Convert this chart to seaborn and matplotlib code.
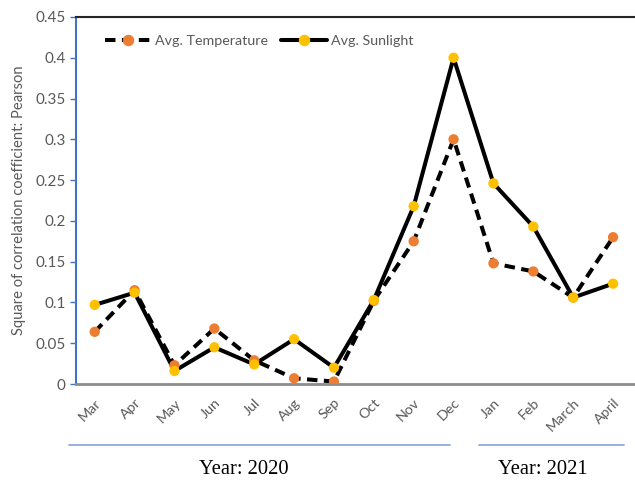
import pandas as pd
import matplotlib.pyplot as plt
import seaborn as sns

# Data
months = ["Mar", "Apr", "May", "Jun", "Jul", "Aug", "Sep", "Oct", "Nov", "Dec",
          "Jan", "Feb", "March", "April"]
avg_temperature = [0.064, 0.115, 0.023, 0.068, 0.029, 0.007, 0.003, 0.102,
                   0.175, 0.300, 0.148, 0.138, 0.106, 0.180]
avg_sunlight = [0.097, 0.112, 0.016, 0.045, 0.024, 0.055, 0.020, 0.103,
                0.218, 0.400, 0.246, 0.193, 0.106, 0.123]
y_ticks = [0, 0.05, 0.1, 0.15, 0.2, 0.25, 0.3, 0.35, 0.4, 0.45]
y_tick_labels = ["0", "0.05", "0.1", "0.15", "0.2", "0.25", "0.3", "0.35", "0.4", "0.45"]
groups = [("Year: 2020", -0.65, 8.9, 3.73), ("Year: 2021", 9.63, 13.28, 11.24)]

pos = list(range(len(months)))
data = pd.concat([
    pd.DataFrame({"pos": pos, "value": avg_temperature, "series": "Avg. Temperature"}),
    pd.DataFrame({"pos": pos, "value": avg_sunlight, "series": "Avg. Sunlight"}),
])

sns.set_style("white")
plt.rcParams["font.family"] = ["Lato", "DejaVu Sans"]

fig = plt.figure(figsize=(6.35, 4.84), dpi=100)
ax = fig.add_axes([0.119, 0.2066, 0.881, 0.7583])

sns.lineplot(
    data=data, x="pos", y="value", hue="series", style="series",
    hue_order=["Avg. Temperature", "Avg. Sunlight"],
    style_order=["Avg. Temperature", "Avg. Sunlight"],
    palette=["black", "black"],
    dashes={"Avg. Temperature": (2.6, 1.6), "Avg. Sunlight": ""},
    markers=False, linewidth=2.9, sort=False, ax=ax, legend=True,
)
# markers drawn on top in Excel-like colours
sns.scatterplot(x=pos, y=avg_temperature, color="#ED7D31", s=55, edgecolor="none",
                zorder=5, ax=ax, legend=False)
sns.scatterplot(x=pos, y=avg_sunlight, color="#FFC000", s=55, edgecolor="none",
                zorder=5, ax=ax, legend=False)

# legend handles with markers
handles, labels = ax.get_legend_handles_labels()
for h, c in zip(handles, ["#ED7D31", "#FFC000"]):
    h.set_marker("o")
    h.set_markersize(7.5)
    h.set_markerfacecolor(c)
    h.set_markeredgecolor(c)
ax.legend(handles, labels, loc="upper left", bbox_to_anchor=(0.03, 0.985), ncol=2,
          frameon=False, fontsize=10.3, handlelength=3.2, columnspacing=0.9,
          labelcolor="#595959", handletextpad=0.3)

ax.set_xlim(-0.48, 13.55)
ax.set_ylim(0, 0.45)
ax.set_xticks(pos)
ax.set_xticklabels(months, rotation=45, ha="right", rotation_mode="anchor",
                   color="#595959", fontsize=10.3)
ax.set_yticks(y_ticks)
ax.set_yticklabels(y_tick_labels, color="#595959", fontsize=11)
ax.tick_params(axis="x", length=0, pad=9)
ax.tick_params(axis="y", length=4, width=1, color="#4472C4", direction="out", pad=3,
               left=True)
ax.set_xlabel("")
ax.set_ylabel("Square of correlation coefficient: Pearson", color="#595959",
              fontsize=10.6, labelpad=7)

for side in ax.spines.values():
    side.set_visible(False)
ax.spines["left"].set_visible(True)
ax.spines["left"].set_color("#4472C4")
ax.spines["left"].set_linewidth(1.5)
ax.spines["bottom"].set_visible(True)
ax.spines["bottom"].set_color("#8C8C8C")
ax.spines["bottom"].set_linewidth(2)
ax.spines["top"].set_visible(True)
ax.spines["top"].set_color("#262626")
ax.spines["top"].set_linewidth(1.5)

# year group brackets and labels
trans = ax.get_xaxis_transform()
for name, x0, x1, xc in groups:
    ax.plot([x0, x1], [-0.166, -0.166], color="#8EA9DB", linewidth=1.3,
            transform=trans, clip_on=False)
    ax.text(xc, -0.234, name, transform=trans, ha="center", va="center",
            fontsize=14.8, family=["Liberation Serif"], color="black")

plt.savefig("out.png", dpi=100)
